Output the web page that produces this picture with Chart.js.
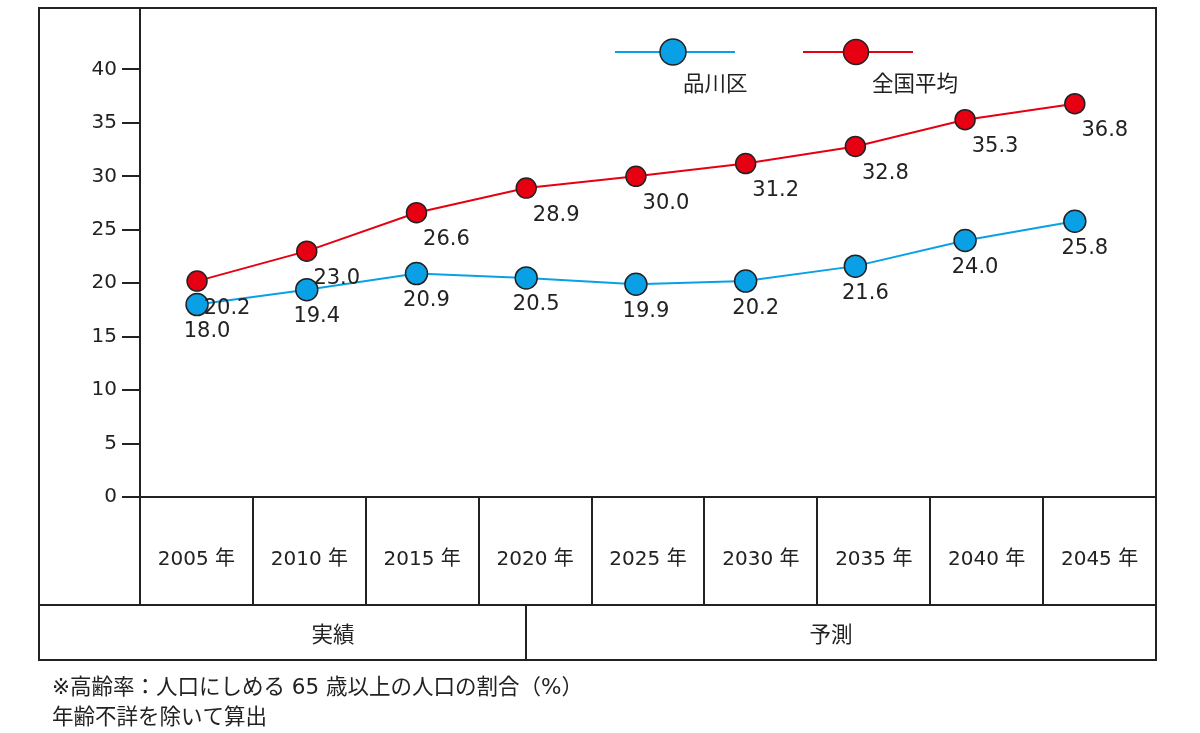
<!DOCTYPE html>
<html>
<head>
<meta charset="utf-8">
<script src="https://cdn.jsdelivr.net/npm/chart.js@4/dist/chart.umd.min.js"></script>
<style>
  html, body { margin: 0; padding: 0; background: #fff; }
  #wrap { width: 1200px; height: 733px; position: relative; }
</style>
</head>
<body>
<div id="wrap"><canvas id="chart" width="1200" height="733"></canvas></div>
<script>
// data
const years = [2005, 2010, 2015, 2020, 2025, 2030, 2035, 2040, 2045];
const yearLabels = years.map(y => y + ' 年');
const shinagawa = [18.0, 19.4, 20.9, 20.5, 19.9, 20.2, 21.6, 24.0, 25.8];
const national = [20.2, 23.0, 26.6, 28.9, 30.0, 31.2, 32.8, 35.3, 36.8];
const yTicks = [0, 5, 10, 15, 20, 25, 30, 35, 40];
const seriesNames = ['品川区', '全国平均'];
const periods = ['実績', '予測'];
const lastActualYear = 2020;
const notes = ['※高齢率：人口にしめる 65 歳以上の人口の割合（%）', '年齢不詳を除いて算出'];

const BLUE = '#0aa0e6';
const RED = '#e60012';
const INK = '#222';
const NUM_FONT = '21px "DejaVu Sans", "Noto Sans CJK JP", sans-serif';
const JP_FONT = '21.5px "Noto Sans CJK JP", sans-serif';
const NOTE_FONT = '21.5px "DejaVu Sans", "Noto Sans CJK JP", sans-serif';

// frame around the chart and the year / period table underneath
const tablePlugin = {
  id: 'table',
  afterDraw(chart) {
    const { ctx, chartArea: a, scales } = chart;
    const x = scales.x, xd = scales.xd;
    const frameLeft = 39, frameTop = 8, rowY = 605, frameBottom = 660;
    ctx.save();
    ctx.strokeStyle = INK;
    ctx.lineWidth = 2;
    ctx.beginPath();
    // outer box
    ctx.rect(frameLeft, frameTop, a.right - frameLeft, frameBottom - frameTop);
    // y axis line running down to the period row
    ctx.moveTo(a.left, frameTop); ctx.lineTo(a.left, rowY);
    // zero line
    ctx.moveTo(a.left - 18, a.bottom); ctx.lineTo(a.right, a.bottom);
    // period row
    ctx.moveTo(frameLeft, rowY); ctx.lineTo(a.right, rowY);
    // year column separators
    for (let i = 0; i < years.length - 1; i++) {
      const sx = Math.round((x.getPixelForValue(i) + x.getPixelForValue(i + 1)) / 2);
      ctx.moveTo(sx, a.bottom); ctx.lineTo(sx, rowY);
    }
    // split between actual and projected
    const split = Math.round(xd.getPixelForValue(lastActualYear));
    ctx.moveTo(split, rowY); ctx.lineTo(split, frameBottom);
    ctx.stroke();

    // period labels
    ctx.fillStyle = INK;
    ctx.font = JP_FONT;
    ctx.textAlign = 'center';
    ctx.textBaseline = 'middle';
    const cy = (rowY + frameBottom) / 2 + 1;
    ctx.fillText(periods[0], (a.left + split) / 2, cy);
    ctx.fillText(periods[1], (split + a.right) / 2 - 10, cy);

    // notes under the table
    ctx.textAlign = 'left';
    ctx.font = NOTE_FONT;
    notes.forEach((t, i) => ctx.fillText(t, 52, 688 + i * 30));
    ctx.restore();
  }
};

// custom legend: line with a big dot, name underneath
const legendPlugin = {
  id: 'dotLegend',
  afterDraw(chart) {
    const { ctx } = chart;
    const items = [
      { x1: 615, x2: 735, cx: 673, tx: 683, r: 13 },
      { x1: 803, x2: 913, cx: 856, tx: 872, r: 12.5 }
    ];
    ctx.save();
    chart.data.datasets.forEach((ds, i) => {
      const it = items[i];
      ctx.strokeStyle = ds.borderColor;
      ctx.lineWidth = 2;
      ctx.beginPath(); ctx.moveTo(it.x1, 52); ctx.lineTo(it.x2, 52); ctx.stroke();
      ctx.beginPath(); ctx.arc(it.cx, 52, it.r, 0, Math.PI * 2);
      ctx.fillStyle = ds.pointBackgroundColor; ctx.fill();
      ctx.strokeStyle = INK; ctx.lineWidth = 1.5; ctx.stroke();
      ctx.fillStyle = INK;
      ctx.font = JP_FONT;
      ctx.textBaseline = 'middle';
      ctx.fillText(ds.label, it.tx, 83);
    });
    ctx.restore();
  }
};

// value labels below-right of each point
const valuePlugin = {
  id: 'values',
  afterDatasetsDraw(chart) {
    const { ctx } = chart;
    const offsets = [[10, 27], [30, 27]];
    ctx.save();
    ctx.fillStyle = INK;
    ctx.font = NUM_FONT;
    ctx.textAlign = 'center';
    ctx.textBaseline = 'middle';
    chart.data.datasets.forEach((ds, i) => {
      chart.getDatasetMeta(i).data.forEach((pt, j) => {
        ctx.fillText(ds.data[j].y.toFixed(1), pt.x + offsets[i][0], pt.y + offsets[i][1]);
      });
    });
    ctx.restore();
  }
};

const toPoints = vals => vals.map((v, i) => ({ x: years[i], y: v }));

new Chart(document.getElementById('chart').getContext('2d'), {
  type: 'line',
  data: {
    labels: yearLabels,
    datasets: [
      {
        label: seriesNames[0],
        data: toPoints(shinagawa),
        xAxisID: 'xd',
        borderColor: BLUE,
        borderWidth: 2,
        pointBackgroundColor: BLUE,
        pointBorderColor: INK,
        pointBorderWidth: 1.5,
        pointRadius: 11,
        tension: 0
      },
      {
        label: seriesNames[1],
        data: toPoints(national),
        xAxisID: 'xd',
        borderColor: RED,
        borderWidth: 2,
        pointBackgroundColor: RED,
        pointBorderColor: INK,
        pointBorderWidth: 1.5,
        pointRadius: 10,
        tension: 0
      }
    ]
  },
  options: {
    responsive: false,
    animation: false,
    layout: { padding: { left: 0, right: 44, top: 4, bottom: 128 } },
    plugins: {
      legend: { display: false },
      tooltip: { enabled: false }
    },
    scales: {
      xd: {
        type: 'linear',
        display: false,
        min: 2002.4,
        max: 2048.7
      },
      x: {
        type: 'category',
        position: 'bottom',
        offset: true,
        grid: { display: false },
        border: { display: false },
        ticks: {
          padding: 43,
          color: INK,
          font: { family: '"DejaVu Sans", "Noto Sans CJK JP", sans-serif', size: 20 },
          maxRotation: 0,
          autoSkip: false
        },
        afterFit(scale) {
          scale.height = 108;
          scale.paddingLeft = 0; scale.paddingRight = 0;
        }
      },
      y: {
        min: 0,
        max: 45.33,
        afterBuildTicks(scale) { scale.ticks = yTicks.map(v => ({ value: v })); },
        grid: { drawOnChartArea: false, drawTicks: true, tickLength: 18, color: INK, lineWidth: 2 },
        border: { display: false },
        ticks: {
          padding: 5,
          color: INK,
          font: { family: '"DejaVu Sans", sans-serif', size: 20 }
        },
        afterFit(scale) {
          scale.width = 140;
          scale.paddingTop = 0; scale.paddingBottom = 0;
        }
      }
    }
  },
  plugins: [tablePlugin, legendPlugin, valuePlugin]
});
</script>
</body>
</html>
